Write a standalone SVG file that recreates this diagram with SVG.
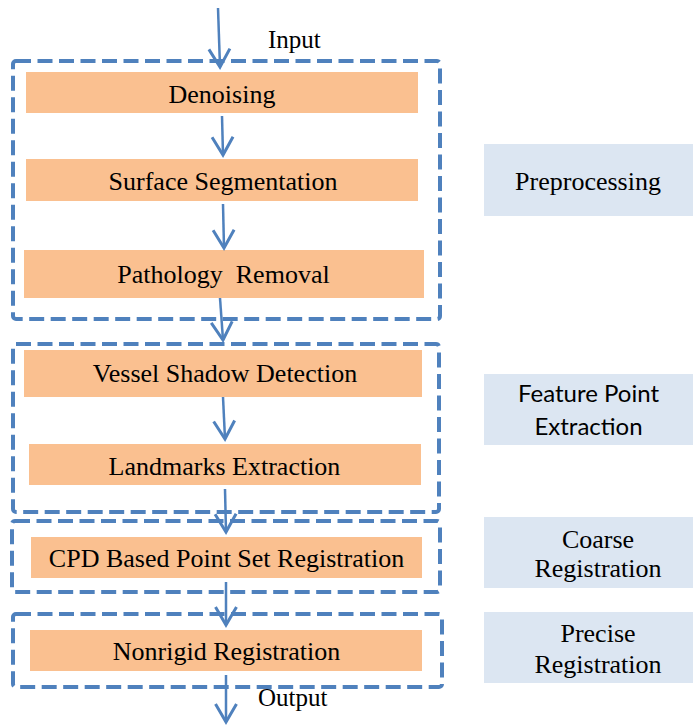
<svg xmlns="http://www.w3.org/2000/svg" width="697" height="725" viewBox="0 0 697 725">
<style>
.grp{fill:none;stroke:#4F81BD;stroke-width:4;stroke-dasharray:15 6.5}
.step{fill:#FAC090;stroke:none}
.side{fill:#DCE6F2;stroke:none}
.tx{font-family:"Liberation Serif","Times New Roman",serif;font-size:26px;fill:#000;text-anchor:middle}
.s{font-family:Lato,"Liberation Sans",sans-serif;font-size:24px;fill:#000;text-anchor:middle}
.lbl{font-family:"Liberation Serif","Times New Roman",serif;font-size:25px;fill:#000}
.c{fill:none;stroke:#4F81BD;stroke-width:2.5}
</style>
<defs>
<marker id="ah" markerUnits="userSpaceOnUse" viewBox="-22 -13 26 26" markerWidth="26" markerHeight="26" refX="0" refY="0" orient="auto">
<path d="M-18,-10.5 L0,0 L-18,10.5" fill="none" stroke="#4F81BD" stroke-width="3"/>
</marker>
</defs>
<rect width="697" height="725" fill="#fff"/>
<g id="group-preprocessing"><rect class="grp" x="13" y="61" width="427" height="258" rx="3"/></g>
<g id="group-feature"><rect class="grp" x="13" y="344" width="426" height="168" rx="3"/></g>
<g id="group-coarse"><rect class="grp" x="12" y="521" width="428" height="71" rx="3"/></g>
<g id="group-precise"><rect class="grp" x="13" y="614" width="429" height="73" rx="3"/></g>

<g id="denoising"><rect class="step" x="26" y="72" width="392" height="41"/><text class="tx" x="222" y="103">Denoising</text></g>
<g id="surface-segmentation"><rect class="step" x="26" y="159" width="392" height="42"/><text class="tx" x="223" y="190">Surface Segmentation</text></g>
<g id="pathology-removal"><rect class="step" x="24" y="250" width="400" height="48"/><text class="tx" x="223.5" y="283" xml:space="preserve">Pathology  Removal</text></g>
<g id="vessel-shadow-detection"><rect class="step" x="24" y="350" width="398" height="47"/><text class="tx" x="225" y="382">Vessel Shadow Detection</text></g>
<g id="landmarks-extraction"><rect class="step" x="29" y="444" width="392" height="41"/><text class="tx" x="224.5" y="475">Landmarks Extraction</text></g>
<g id="cpd-registration"><rect class="step" x="31" y="537" width="391" height="41"/><text class="tx" x="226.5" y="567">CPD Based Point Set Registration</text></g>
<g id="nonrigid-registration"><rect class="step" x="30" y="630" width="392" height="41"/><text class="tx" x="226.5" y="660">Nonrigid Registration</text></g>

<g id="label-preprocessing"><rect class="side" x="484" y="144" width="209" height="72"/><text class="tx" x="588" y="190">Preprocessing</text></g>
<g id="label-feature"><rect class="side" x="484" y="374" width="209" height="71"/><text class="s" x="588.5" y="402">Feature Point</text><text class="s" x="588.5" y="435">Extraction</text></g>
<g id="label-coarse"><rect class="side" x="484" y="517" width="209" height="71"/><text class="tx" x="598" y="548">Coarse</text><text class="tx" x="598" y="577">Registration</text></g>
<g id="label-precise"><rect class="side" x="484" y="612" width="209" height="71"/><text class="tx" x="598" y="642">Precise</text><text class="tx" x="598" y="673">Registration</text></g>

<text class="lbl" x="268" y="48">Input</text>
<text class="lbl" x="258" y="706">Output</text>

<g id="connectors">
<line class="c" x1="218" y1="8" x2="220" y2="67" marker-end="url(#ah)"/>
<line class="c" x1="222" y1="116" x2="223" y2="155" marker-end="url(#ah)"/>
<line class="c" x1="223" y1="204" x2="224" y2="248" marker-end="url(#ah)"/>
<line class="c" x1="220" y1="298" x2="223" y2="340" marker-end="url(#ah)"/>
<line class="c" x1="223" y1="397" x2="225" y2="439" marker-end="url(#ah)"/>
<line class="c" x1="225" y1="489" x2="226" y2="532" marker-end="url(#ah)"/>
<line class="c" x1="226" y1="582" x2="226" y2="625" marker-end="url(#ah)"/>
<line class="c" x1="226" y1="675" x2="226" y2="722" marker-end="url(#ah)"/>
</g>
</svg>
